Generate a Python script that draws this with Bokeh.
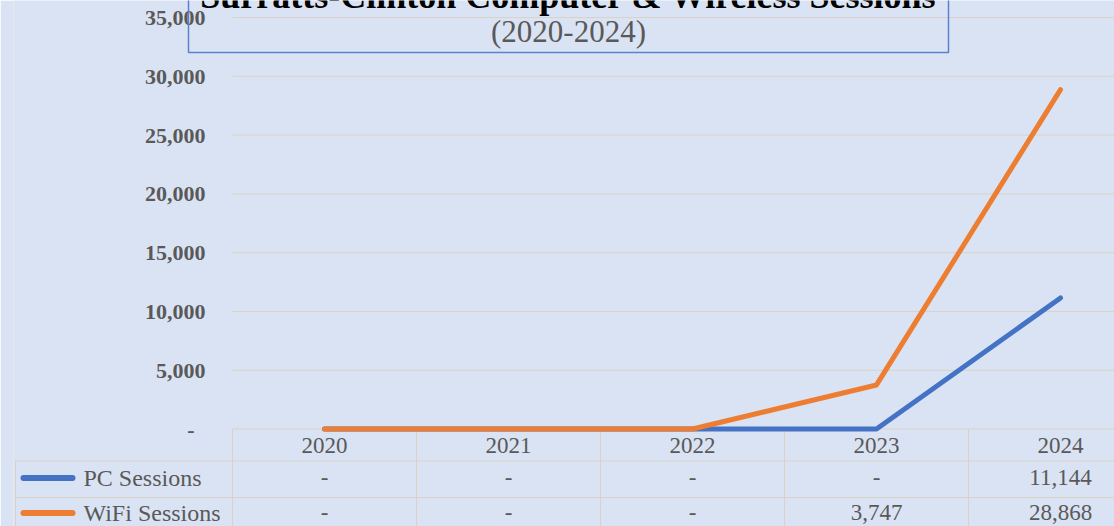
from bokeh.plotting import figure
from bokeh.models import (Range1d, FixedTicker, NumeralTickFormatter, Label,
                          BoxAnnotation, ColumnDataSource)
from bokeh.embed import file_html
from bokeh.resources import INLINE
from bokeh.core.properties import value

# ---------------- data ----------------
years = ["2020", "2021", "2022", "2023", "2024"]
pc_sessions = [0, 0, 0, 0, 11144]
wifi_sessions = [0, 0, 0, 3747, 28868]
series_names = ["PC Sessions", "WiFi Sessions"]
y_ticks = [0, 5000, 10000, 15000, 20000, 25000, 30000, 35000]
title_text = "Surratts-Clinton Computer & Wireless Sessions"
subtitle_text = "(2020-2024)"

# ---------------- style ----------------
BG = "#DAE3F3"
GRID = "#D8D3C6"
TXT = "#595959"
BLUE = "#4472C4"
ORANGE = "#ED7D31"
BOXC = "#5B80CC"
FONT = "Liberation Serif"

W, H = 1114, 526
COL = 184            # pixel width of one category column
FRAME_LEFT = 13      # frame starts here (table border lies inside it)
idx = list(range(len(years)))


def px2x(img_x):
    """page pixel x -> category coordinate"""
    return -0.5 + (img_x - 232) / COL


def img2y(img_y):
    """page pixel y -> value coordinate"""
    return (428.5 - img_y) * 35000 / 411.5


x_end = px2x(W)

p = figure(width=W, height=H,
           x_range=Range1d(px2x(FRAME_LEFT), x_end),
           y_range=Range1d(img2y(H), img2y(0)),
           output_backend="svg", toolbar_location=None,
           min_border_left=FRAME_LEFT, min_border_right=0,
           min_border_top=0, min_border_bottom=0)
p.background_fill_color = BG
p.border_fill_color = BG
p.outline_line_color = None
p.xgrid.visible = False
p.ygrid.visible = False

# ---- value axis (labels sit left of the plot area at x~205) ----
yax = p.yaxis[0]
yax.ticker = FixedTicker(ticks=y_ticks)
yax.formatter = NumeralTickFormatter(format="0,0")
yax.major_label_overrides = {0: "-\u00a0\u00a0"}
yax.major_label_text_font = FONT
yax.major_label_text_font_size = "22px"
yax.major_label_text_font_style = "bold"
yax.major_label_text_color = TXT
yax.major_label_standoff = -(205 - FRAME_LEFT)
yax.major_tick_out = 0
yax.major_tick_in = 0
yax.major_tick_line_color = None
yax.minor_tick_line_color = None
yax.axis_line_color = None

# ---- category axis (labels form the data-table header row) ----
xax = p.xaxis[0]
xax.ticker = FixedTicker(ticks=idx)
xax.major_label_overrides = {i: yr for i, yr in enumerate(years)}
xax.major_label_text_font = FONT
xax.major_label_text_font_size = "23px"
xax.major_label_text_color = TXT
xax.major_label_standoff = -(H - 437)
xax.major_tick_out = 0
xax.major_tick_in = 0
xax.major_tick_line_color = None
xax.minor_tick_line_color = None
xax.axis_line_color = None

# ---- horizontal gridlines over the plot area ----
p.segment(x0=[-0.5] * len(y_ticks), y0=y_ticks, x1=[x_end] * len(y_ticks), y1=y_ticks,
          line_color=GRID, line_width=1)

# ---- data table grid ----
row_lines = [img2y(460.5), img2y(497)]
p.segment(x0=[px2x(15)] * 2, y0=row_lines, x1=[x_end] * 2, y1=row_lines,
          line_color=GRID, line_width=1)
vx = [px2x(15)] + [i - 0.5 for i in idx] + [len(idx) - 0.5]
vy0 = [img2y(460.5)] + [0] * (len(idx) + 1)
p.segment(x0=vx, y0=vy0, x1=vx, y1=[img2y(H + 10)] * len(vx),
          line_color=GRID, line_width=1)

# ---- series lines ----
src = ColumnDataSource(dict(x=idx, pc=pc_sessions, wifi=wifi_sessions))
p.line("x", "pc", source=src, line_color=BLUE, line_width=5,
       line_cap="round", line_join="round")
p.line("x", "wifi", source=src, line_color=ORANGE, line_width=5,
       line_cap="round", line_join="round")

# ---- table body: legend keys, series names, values ----
row_y = [img2y(477), img2y(512)]
key_y = [img2y(477.5), img2y(512.5)]
p.segment(x0=[px2x(23)] * 2, y0=key_y, x1=[px2x(72)] * 2, y1=key_y,
          line_color=[BLUE, ORANGE], line_width=6, line_cap="round")
p.text(x=[px2x(83)] * 2, y=row_y, text=series_names,
       text_align="left", text_baseline="middle",
       text_font=value(FONT), text_font_size="24px", text_color=TXT)


def fmt(v):
    return "-" if v == 0 else f"{v:,}"


cell_x = idx + idx
cell_y = [row_y[0]] * len(idx) + [row_y[1]] * len(idx)
cell_t = [fmt(v) for v in pc_sessions] + [fmt(v) for v in wifi_sessions]
p.text(x=cell_x, y=cell_y, text=cell_t,
       text_align="center", text_baseline="middle",
       text_font=value(FONT), text_font_size="23px", text_color=TXT)

# ---- chart title box ----
p.add_layout(BoxAnnotation(left=px2x(188), right=px2x(948),
                           bottom=img2y(52), top=img2y(-30),
                           fill_color=None, line_color=BOXC, line_alpha=1.0,
                           line_width=1.5))
p.add_layout(Label(x=px2x(568), y=img2y(-5), text=title_text,
                   text_align="center", text_baseline="alphabetic",
                   text_font=FONT, text_font_size="36px",
                   text_font_style="bold", text_color="#000000"))
p.add_layout(Label(x=px2x(568), y=img2y(31), text=subtitle_text,
                   text_align="center", text_baseline="alphabetic",
                   text_font=FONT, text_font_size="31px",
                   text_color=TXT))

open("out.html", "w").write(file_html(p, INLINE))
